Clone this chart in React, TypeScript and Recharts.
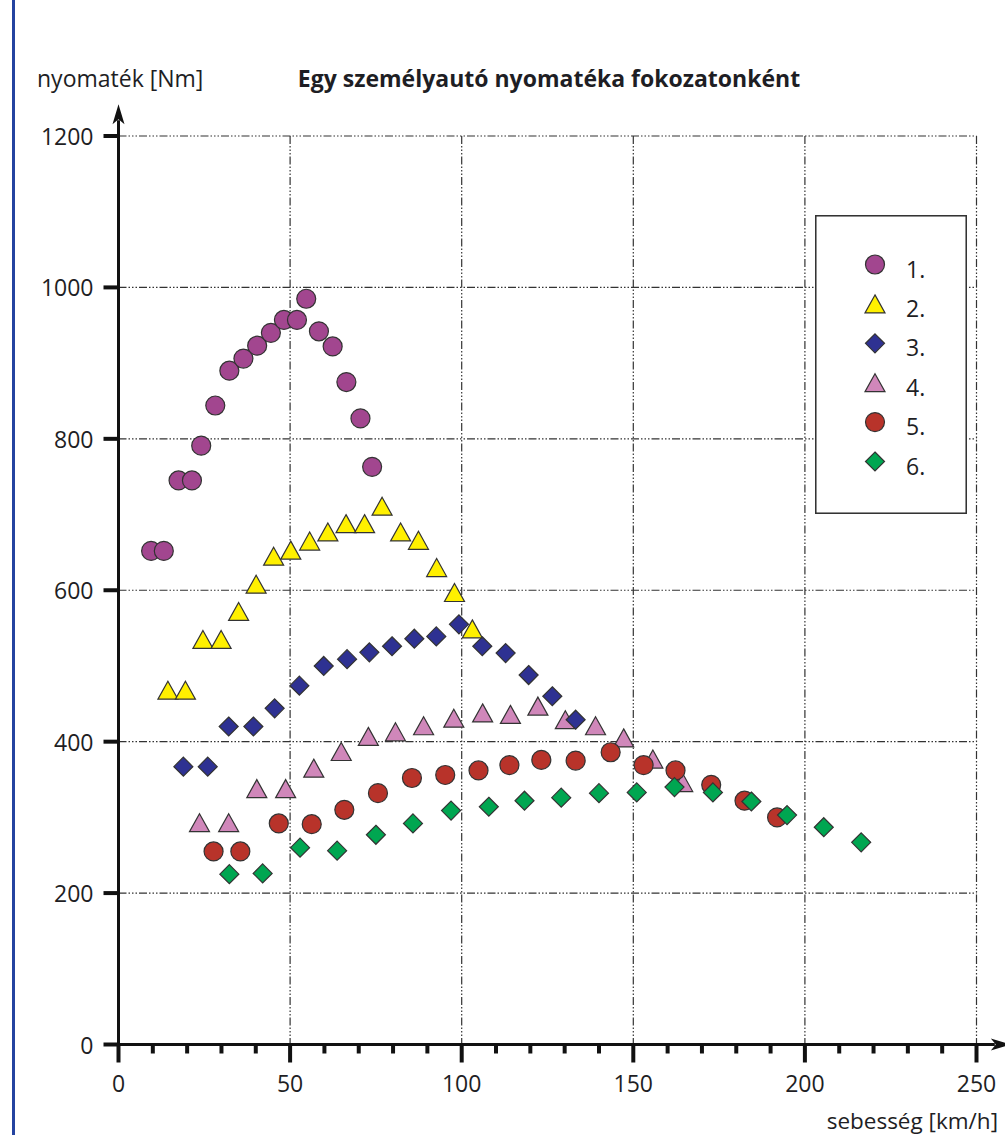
import { CartesianGrid, Legend, ReferenceLine, Scatter, ScatterChart, XAxis, YAxis } from 'recharts'

const FONT = '"Open Sans", "Noto Sans", sans-serif'
const INK = '#1e1e24'
const FS = 23

// speed [km/h] and torque [Nm], one pair per gear
const gear1Speed = [9.5, 13.2, 17.5, 21.4, 24.1, 28.2, 32.3, 36.4, 40.4, 44.4, 48.2, 52.0, 54.7, 58.4, 62.4, 66.4, 70.5, 73.9]
const gear1Torque = [652, 652, 745, 745, 791, 844, 890, 906, 923, 940, 957, 957, 985, 942, 922, 875, 827, 763]

const gear2Speed = [14.4, 19.5, 24.6, 29.9, 35.0, 40.1, 45.2, 50.2, 55.7, 61.0, 66.3, 71.7, 76.8, 82.2, 87.4, 92.7, 97.9, 103.1]
const gear2Torque = [468, 468, 535, 535, 572, 608, 645, 653, 665, 677, 688, 688, 711, 677, 666, 630, 597, 549]

const gear3Speed = [18.9, 26.0, 32.1, 39.3, 45.5, 52.7, 59.8, 66.6, 73.1, 79.7, 86.2, 92.6, 99.2, 106.0, 112.8, 119.5, 126.4, 133.2]
const gear3Torque = [367, 367, 420, 420, 444, 474, 500, 509, 518, 526, 536, 539, 555, 526, 517, 488, 460, 429]

const gear4Speed = [23.6, 32.1, 40.3, 48.7, 56.9, 64.9, 72.8, 80.7, 88.9, 97.7, 106.1, 114.2, 122.2, 130.2, 139.0, 147.2, 155.7, 164.4]
const gear4Torque = [293, 293, 338, 338, 365, 387, 407, 413, 421, 431, 438, 436, 447, 429, 421, 405, 377, 346]

const gear5Speed = [27.7, 35.5, 46.7, 56.3, 65.8, 75.6, 85.5, 95.2, 104.9, 113.9, 123.2, 133.2, 143.4, 153.0, 162.3, 172.7, 182.4, 191.9]
const gear5Torque = [255, 255, 292, 291, 310, 332, 352, 356, 362, 369, 376, 375, 386, 369, 362, 343, 322, 300]

const gear6Speed = [32.3, 42.0, 52.9, 63.7, 75.0, 85.8, 96.9, 107.9, 118.3, 129.0, 140.0, 151.0, 162.0, 173.2, 184.4, 194.8, 205.5, 216.4]
const gear6Torque = [225, 226, 260, 256, 277, 292, 309, 314, 322, 326, 332, 333, 340, 333, 321, 303, 287, 267]

const speedTicks = [0, 10, 20, 30, 40, 50, 60, 70, 80, 90, 100, 110, 120, 130, 140, 150, 160, 170, 180, 190, 200, 210, 220, 230, 240, 250]
const torqueTicks = [0, 200, 400, 600, 800, 1000, 1200]
const speedGrid = [50, 100, 150, 200, 250]
const torqueGrid = [200, 400, 600, 800, 1000, 1200]

type Marker = 'circle' | 'triangle' | 'diamond'

const series: { name: string; speed: number[]; torque: number[]; marker: Marker; color: string }[] = [
  { name: '1.', speed: gear1Speed, torque: gear1Torque, marker: 'circle', color: '#A2468F' },
  { name: '2.', speed: gear2Speed, torque: gear2Torque, marker: 'triangle', color: '#FFF000' },
  { name: '3.', speed: gear3Speed, torque: gear3Torque, marker: 'diamond', color: '#2E3192' },
  { name: '4.', speed: gear4Speed, torque: gear4Torque, marker: 'triangle', color: '#D087BA' },
  { name: '5.', speed: gear5Speed, torque: gear5Torque, marker: 'circle', color: '#B8332A' },
  { name: '6.', speed: gear6Speed, torque: gear6Torque, marker: 'diamond', color: '#00A651' },
]

// stacking seen in the picture: 4 under 3 under 2, 5 and 6 on top
const drawOrder = [3, 2, 1, 0, 4, 5]

function MarkerShape({ marker, cx, cy, fill }: { marker: Marker; cx: number; cy: number; fill: string }) {
  const common = { fill, stroke: '#333', strokeWidth: 1.2 }
  if (marker === 'circle') return <circle cx={cx} cy={cy} r={9.5} {...common} />
  if (marker === 'diamond') {
    const r = 9.5
    return <polygon points={`${cx},${cy - r} ${cx + r},${cy} ${cx},${cy + r} ${cx - r},${cy}`} {...common} />
  }
  const w = 20
  const h = 18
  return <polygon points={`${cx},${cy - h / 2} ${cx + w / 2},${cy + h / 2} ${cx - w / 2},${cy + h / 2}`} {...common} />
}

function SpeedTick({ x, y, payload }: any) {
  const v = payload.value
  const major = v % 50 === 0
  return (
    <g>
      <line x1={x} y1={y} x2={x} y2={y + (major ? 18 : 9)} stroke="#111" strokeWidth={4} />
      {major && (
        <text x={x} y={y + 38} textAnchor="middle" dominantBaseline="central" fontSize={FS} fill={INK} fontFamily={FONT}>
          {v}
        </text>
      )}
    </g>
  )
}

function TorqueTick({ x, y, payload }: any) {
  return (
    <g>
      <line x1={x - 15} y1={y} x2={x} y2={y} stroke="#111" strokeWidth={4} />
      <text x={x - 25} y={y} textAnchor="end" dominantBaseline="central" fontSize={FS} fill={INK} fontFamily={FONT}>
        {payload.value}
      </text>
    </g>
  )
}

function AxisArrow({ x1, y1, x2, y2 }: any) {
  const len = Math.hypot(x2 - x1, y2 - y1)
  const ux = (x2 - x1) / len
  const uy = (y2 - y1) / len
  const head = 20
  const half = 6
  const bx = x2 - ux * head
  const by = y2 - uy * head
  return (
    <g>
      <line x1={x1} y1={y1} x2={bx + ux * 4} y2={by + uy * 4} stroke="#111" strokeWidth={3} />
      <polygon
        points={`${x2},${y2} ${bx - uy * half},${by + ux * half} ${bx + ux * 5},${by + uy * 5} ${bx + uy * half},${by - ux * half}`}
        fill="#111"
      />
    </g>
  )
}

function LegendBox() {
  return (
    <svg width={152} height={299} style={{ display: 'block' }}>
      <rect x={0.75} y={0.75} width={150.5} height={297.5} fill="#fff" stroke="#333" strokeWidth={1.6} />
      {series.map((s, i) => {
        const cy = 49.5 + i * 39.4
        return (
          <g key={s.name}>
            <MarkerShape marker={s.marker} cx={60} cy={cy} fill={s.color} />
            <text x={91} y={cy + 4} dominantBaseline="central" fontSize={FS} fill={INK} fontFamily={FONT}>
              {s.name}
            </text>
          </g>
        )
      })}
    </svg>
  )
}

export default function App() {
  return (
    <div style={{ position: 'absolute', left: 0, top: 0, width: 1005, height: 1135, background: '#fff', overflow: 'hidden' }}>
      <svg width={1005} height={1135} style={{ position: 'absolute', left: 0, top: 0 }}>
        <rect x={12} y={0} width={3} height={1135} fill="#2443A0" />
        <text x={37} y={78} dominantBaseline="central" fontSize={FS} fill={INK} fontFamily={FONT}>
          nyomaték [Nm]
        </text>
        <text x={549} y={78} textAnchor="middle" dominantBaseline="central" fontSize={FS} fontWeight="bold" fill={INK} fontFamily={FONT}>
          Egy személyautó nyomatéka fokozatonként
        </text>
        <text x={998} y={1120} textAnchor="end" dominantBaseline="central" fontSize={22.5} fill={INK} fontFamily={FONT}>
          sebesség [km/h]
        </text>
      </svg>
      <div style={{ position: 'absolute', left: 0, top: 0 }}>
        <ScatterChart width={1005} height={1135} margin={{ top: 136, right: 28.5, bottom: 30.5, left: 38.5 }}>
          <CartesianGrid
            horizontalValues={torqueGrid}
            verticalValues={speedGrid}
            stroke="#333"
            strokeWidth={1.2}
            strokeDasharray="8 2 1.5 2 1.5 2 1.5 2"
          />
          <XAxis
            type="number"
            dataKey="x"
            domain={[0, 250]}
            ticks={speedTicks}
            interval={0}
            allowDataOverflow
            height={60}
            axisLine={false}
            tickLine={false}
            tickSize={0}
            tickMargin={0}
            tick={<SpeedTick />}
          />
          <YAxis
            type="number"
            dataKey="y"
            domain={[0, 1200]}
            ticks={torqueTicks}
            interval={0}
            allowDataOverflow
            width={80}
            axisLine={false}
            tickLine={false}
            tickSize={0}
            tickMargin={0}
            tick={<TorqueTick />}
          />
          <ReferenceLine segment={[{ x: 0, y: -23 }, { x: 0, y: 1242 }]} ifOverflow="visible" shape={<AxisArrow />} />
          <ReferenceLine segment={[{ x: 0, y: 0 }, { x: 260, y: 0 }]} ifOverflow="visible" shape={<AxisArrow />} />
          {drawOrder.map((i) => {
            const s = series[i]
            const data = s.speed.map((x, k) => ({ x, y: s.torque[k] }))
            return (
              <Scatter
                key={s.name}
                name={s.name}
                data={data}
                fill={s.color}
                isAnimationActive={false}
                shape={(p: any) => <MarkerShape marker={s.marker} cx={p.cx} cy={p.cy} fill={s.color} />}
              />
            )
          })}
          <Legend
            layout="vertical"
            align="center"
            verticalAlign="middle"
            wrapperStyle={{ left: 815, top: 215, width: 152, height: 299 }}
            content={() => <LegendBox />}
          />
        </ScatterChart>
      </div>
    </div>
  )
}
